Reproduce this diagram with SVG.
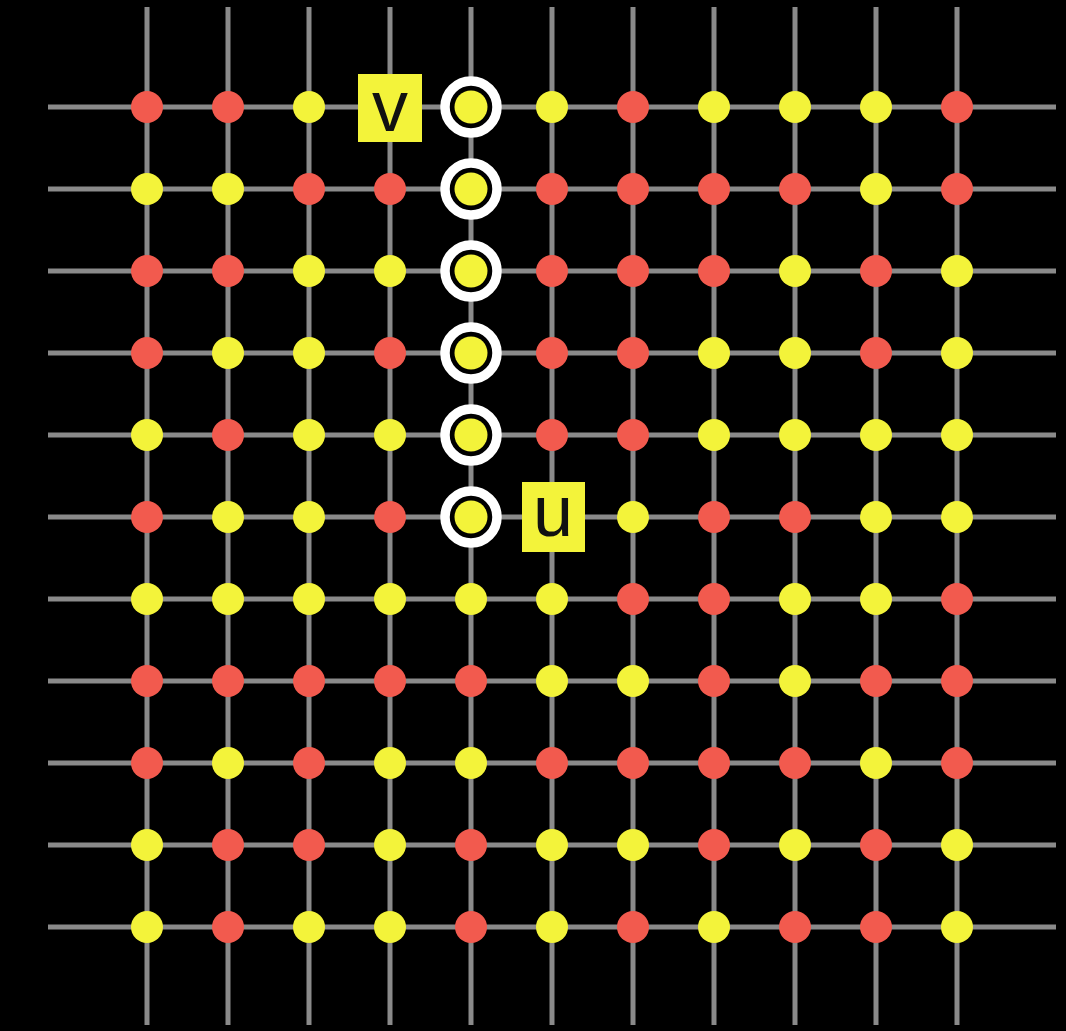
<svg xmlns="http://www.w3.org/2000/svg" width="1066" height="1031" viewBox="0 0 1066 1031">
<style>
.ln{stroke:#8a8a8a;stroke-width:5;fill:none}
.r{fill:#f25a4e}
.y{fill:#f3f33a}
.ring{fill:#000;stroke:#ffffff;stroke-width:9.5}
.lb{fill:#f3f33a}
.tx{font-family:"Liberation Sans",Arial,sans-serif;font-size:72px;fill:#111;text-anchor:middle}
</style>
<rect width="1066" height="1031" fill="#000"/>
<g id="connectors">
<line class="ln" x1="147" y1="7" x2="147" y2="1025"/>
<line class="ln" x1="228" y1="7" x2="228" y2="1025"/>
<line class="ln" x1="309" y1="7" x2="309" y2="1025"/>
<line class="ln" x1="390" y1="7" x2="390" y2="1025"/>
<line class="ln" x1="471" y1="7" x2="471" y2="1025"/>
<line class="ln" x1="552" y1="7" x2="552" y2="1025"/>
<line class="ln" x1="633" y1="7" x2="633" y2="1025"/>
<line class="ln" x1="714" y1="7" x2="714" y2="1025"/>
<line class="ln" x1="795" y1="7" x2="795" y2="1025"/>
<line class="ln" x1="876" y1="7" x2="876" y2="1025"/>
<line class="ln" x1="957" y1="7" x2="957" y2="1025"/>
<line class="ln" x1="48" y1="107" x2="1056" y2="107"/>
<line class="ln" x1="48" y1="189" x2="1056" y2="189"/>
<line class="ln" x1="48" y1="271" x2="1056" y2="271"/>
<line class="ln" x1="48" y1="353" x2="1056" y2="353"/>
<line class="ln" x1="48" y1="435" x2="1056" y2="435"/>
<line class="ln" x1="48" y1="517" x2="1056" y2="517"/>
<line class="ln" x1="48" y1="599" x2="1056" y2="599"/>
<line class="ln" x1="48" y1="681" x2="1056" y2="681"/>
<line class="ln" x1="48" y1="763" x2="1056" y2="763"/>
<line class="ln" x1="48" y1="845" x2="1056" y2="845"/>
<line class="ln" x1="48" y1="927" x2="1056" y2="927"/>
</g>
<g id="nodes">
<!-- row 0 -->
<g id="n0-0"><circle class="r" cx="147" cy="107" r="16"/></g>
<g id="n0-1"><circle class="r" cx="228" cy="107" r="16"/></g>
<g id="n0-2"><circle class="y" cx="309" cy="107" r="16"/></g>
<g id="n0-3"><rect class="lb" x="358" y="74" width="64" height="68"/><text class="tx" x="390" y="131">v</text></g>
<g id="n0-4"><circle class="ring" cx="471" cy="107" r="26"/><circle class="y" cx="471" cy="107" r="16.5"/></g>
<g id="n0-5"><circle class="y" cx="552" cy="107" r="16"/></g>
<g id="n0-6"><circle class="r" cx="633" cy="107" r="16"/></g>
<g id="n0-7"><circle class="y" cx="714" cy="107" r="16"/></g>
<g id="n0-8"><circle class="y" cx="795" cy="107" r="16"/></g>
<g id="n0-9"><circle class="y" cx="876" cy="107" r="16"/></g>
<g id="n0-10"><circle class="r" cx="957" cy="107" r="16"/></g>
<!-- row 1 -->
<g id="n1-0"><circle class="y" cx="147" cy="189" r="16"/></g>
<g id="n1-1"><circle class="y" cx="228" cy="189" r="16"/></g>
<g id="n1-2"><circle class="r" cx="309" cy="189" r="16"/></g>
<g id="n1-3"><circle class="r" cx="390" cy="189" r="16"/></g>
<g id="n1-4"><circle class="ring" cx="471" cy="189" r="26"/><circle class="y" cx="471" cy="189" r="16.5"/></g>
<g id="n1-5"><circle class="r" cx="552" cy="189" r="16"/></g>
<g id="n1-6"><circle class="r" cx="633" cy="189" r="16"/></g>
<g id="n1-7"><circle class="r" cx="714" cy="189" r="16"/></g>
<g id="n1-8"><circle class="r" cx="795" cy="189" r="16"/></g>
<g id="n1-9"><circle class="y" cx="876" cy="189" r="16"/></g>
<g id="n1-10"><circle class="r" cx="957" cy="189" r="16"/></g>
<!-- row 2 -->
<g id="n2-0"><circle class="r" cx="147" cy="271" r="16"/></g>
<g id="n2-1"><circle class="r" cx="228" cy="271" r="16"/></g>
<g id="n2-2"><circle class="y" cx="309" cy="271" r="16"/></g>
<g id="n2-3"><circle class="y" cx="390" cy="271" r="16"/></g>
<g id="n2-4"><circle class="ring" cx="471" cy="271" r="26"/><circle class="y" cx="471" cy="271" r="16.5"/></g>
<g id="n2-5"><circle class="r" cx="552" cy="271" r="16"/></g>
<g id="n2-6"><circle class="r" cx="633" cy="271" r="16"/></g>
<g id="n2-7"><circle class="r" cx="714" cy="271" r="16"/></g>
<g id="n2-8"><circle class="y" cx="795" cy="271" r="16"/></g>
<g id="n2-9"><circle class="r" cx="876" cy="271" r="16"/></g>
<g id="n2-10"><circle class="y" cx="957" cy="271" r="16"/></g>
<!-- row 3 -->
<g id="n3-0"><circle class="r" cx="147" cy="353" r="16"/></g>
<g id="n3-1"><circle class="y" cx="228" cy="353" r="16"/></g>
<g id="n3-2"><circle class="y" cx="309" cy="353" r="16"/></g>
<g id="n3-3"><circle class="r" cx="390" cy="353" r="16"/></g>
<g id="n3-4"><circle class="ring" cx="471" cy="353" r="26"/><circle class="y" cx="471" cy="353" r="16.5"/></g>
<g id="n3-5"><circle class="r" cx="552" cy="353" r="16"/></g>
<g id="n3-6"><circle class="r" cx="633" cy="353" r="16"/></g>
<g id="n3-7"><circle class="y" cx="714" cy="353" r="16"/></g>
<g id="n3-8"><circle class="y" cx="795" cy="353" r="16"/></g>
<g id="n3-9"><circle class="r" cx="876" cy="353" r="16"/></g>
<g id="n3-10"><circle class="y" cx="957" cy="353" r="16"/></g>
<!-- row 4 -->
<g id="n4-0"><circle class="y" cx="147" cy="435" r="16"/></g>
<g id="n4-1"><circle class="r" cx="228" cy="435" r="16"/></g>
<g id="n4-2"><circle class="y" cx="309" cy="435" r="16"/></g>
<g id="n4-3"><circle class="y" cx="390" cy="435" r="16"/></g>
<g id="n4-4"><circle class="ring" cx="471" cy="435" r="26"/><circle class="y" cx="471" cy="435" r="16.5"/></g>
<g id="n4-5"><circle class="r" cx="552" cy="435" r="16"/></g>
<g id="n4-6"><circle class="r" cx="633" cy="435" r="16"/></g>
<g id="n4-7"><circle class="y" cx="714" cy="435" r="16"/></g>
<g id="n4-8"><circle class="y" cx="795" cy="435" r="16"/></g>
<g id="n4-9"><circle class="y" cx="876" cy="435" r="16"/></g>
<g id="n4-10"><circle class="y" cx="957" cy="435" r="16"/></g>
<!-- row 5 -->
<g id="n5-0"><circle class="r" cx="147" cy="517" r="16"/></g>
<g id="n5-1"><circle class="y" cx="228" cy="517" r="16"/></g>
<g id="n5-2"><circle class="y" cx="309" cy="517" r="16"/></g>
<g id="n5-3"><circle class="r" cx="390" cy="517" r="16"/></g>
<g id="n5-4"><circle class="ring" cx="471" cy="517" r="26"/><circle class="y" cx="471" cy="517" r="16.5"/></g>
<g id="n5-5"><rect class="lb" x="522" y="482" width="63" height="70"/><text class="tx" x="553" y="536">u</text></g>
<g id="n5-6"><circle class="y" cx="633" cy="517" r="16"/></g>
<g id="n5-7"><circle class="r" cx="714" cy="517" r="16"/></g>
<g id="n5-8"><circle class="r" cx="795" cy="517" r="16"/></g>
<g id="n5-9"><circle class="y" cx="876" cy="517" r="16"/></g>
<g id="n5-10"><circle class="y" cx="957" cy="517" r="16"/></g>
<!-- row 6 -->
<g id="n6-0"><circle class="y" cx="147" cy="599" r="16"/></g>
<g id="n6-1"><circle class="y" cx="228" cy="599" r="16"/></g>
<g id="n6-2"><circle class="y" cx="309" cy="599" r="16"/></g>
<g id="n6-3"><circle class="y" cx="390" cy="599" r="16"/></g>
<g id="n6-4"><circle class="y" cx="471" cy="599" r="16"/></g>
<g id="n6-5"><circle class="y" cx="552" cy="599" r="16"/></g>
<g id="n6-6"><circle class="r" cx="633" cy="599" r="16"/></g>
<g id="n6-7"><circle class="r" cx="714" cy="599" r="16"/></g>
<g id="n6-8"><circle class="y" cx="795" cy="599" r="16"/></g>
<g id="n6-9"><circle class="y" cx="876" cy="599" r="16"/></g>
<g id="n6-10"><circle class="r" cx="957" cy="599" r="16"/></g>
<!-- row 7 -->
<g id="n7-0"><circle class="r" cx="147" cy="681" r="16"/></g>
<g id="n7-1"><circle class="r" cx="228" cy="681" r="16"/></g>
<g id="n7-2"><circle class="r" cx="309" cy="681" r="16"/></g>
<g id="n7-3"><circle class="r" cx="390" cy="681" r="16"/></g>
<g id="n7-4"><circle class="r" cx="471" cy="681" r="16"/></g>
<g id="n7-5"><circle class="y" cx="552" cy="681" r="16"/></g>
<g id="n7-6"><circle class="y" cx="633" cy="681" r="16"/></g>
<g id="n7-7"><circle class="r" cx="714" cy="681" r="16"/></g>
<g id="n7-8"><circle class="y" cx="795" cy="681" r="16"/></g>
<g id="n7-9"><circle class="r" cx="876" cy="681" r="16"/></g>
<g id="n7-10"><circle class="r" cx="957" cy="681" r="16"/></g>
<!-- row 8 -->
<g id="n8-0"><circle class="r" cx="147" cy="763" r="16"/></g>
<g id="n8-1"><circle class="y" cx="228" cy="763" r="16"/></g>
<g id="n8-2"><circle class="r" cx="309" cy="763" r="16"/></g>
<g id="n8-3"><circle class="y" cx="390" cy="763" r="16"/></g>
<g id="n8-4"><circle class="y" cx="471" cy="763" r="16"/></g>
<g id="n8-5"><circle class="r" cx="552" cy="763" r="16"/></g>
<g id="n8-6"><circle class="r" cx="633" cy="763" r="16"/></g>
<g id="n8-7"><circle class="r" cx="714" cy="763" r="16"/></g>
<g id="n8-8"><circle class="r" cx="795" cy="763" r="16"/></g>
<g id="n8-9"><circle class="y" cx="876" cy="763" r="16"/></g>
<g id="n8-10"><circle class="r" cx="957" cy="763" r="16"/></g>
<!-- row 9 -->
<g id="n9-0"><circle class="y" cx="147" cy="845" r="16"/></g>
<g id="n9-1"><circle class="r" cx="228" cy="845" r="16"/></g>
<g id="n9-2"><circle class="r" cx="309" cy="845" r="16"/></g>
<g id="n9-3"><circle class="y" cx="390" cy="845" r="16"/></g>
<g id="n9-4"><circle class="r" cx="471" cy="845" r="16"/></g>
<g id="n9-5"><circle class="y" cx="552" cy="845" r="16"/></g>
<g id="n9-6"><circle class="y" cx="633" cy="845" r="16"/></g>
<g id="n9-7"><circle class="r" cx="714" cy="845" r="16"/></g>
<g id="n9-8"><circle class="y" cx="795" cy="845" r="16"/></g>
<g id="n9-9"><circle class="r" cx="876" cy="845" r="16"/></g>
<g id="n9-10"><circle class="y" cx="957" cy="845" r="16"/></g>
<!-- row 10 -->
<g id="n10-0"><circle class="y" cx="147" cy="927" r="16"/></g>
<g id="n10-1"><circle class="r" cx="228" cy="927" r="16"/></g>
<g id="n10-2"><circle class="y" cx="309" cy="927" r="16"/></g>
<g id="n10-3"><circle class="y" cx="390" cy="927" r="16"/></g>
<g id="n10-4"><circle class="r" cx="471" cy="927" r="16"/></g>
<g id="n10-5"><circle class="y" cx="552" cy="927" r="16"/></g>
<g id="n10-6"><circle class="r" cx="633" cy="927" r="16"/></g>
<g id="n10-7"><circle class="y" cx="714" cy="927" r="16"/></g>
<g id="n10-8"><circle class="r" cx="795" cy="927" r="16"/></g>
<g id="n10-9"><circle class="r" cx="876" cy="927" r="16"/></g>
<g id="n10-10"><circle class="y" cx="957" cy="927" r="16"/></g>
</g>
</svg>
